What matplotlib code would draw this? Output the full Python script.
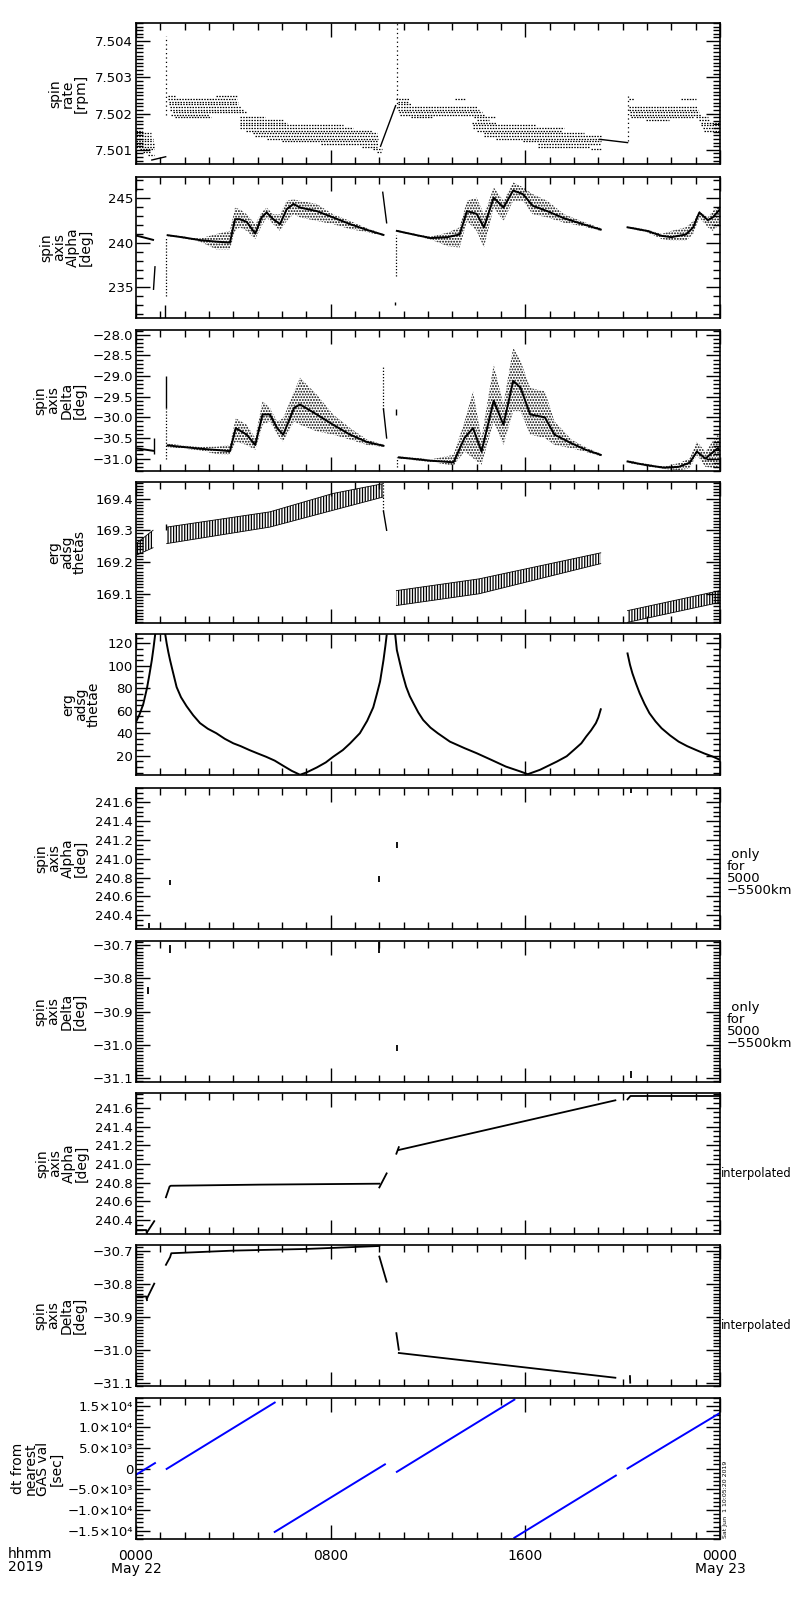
import numpy as np
import matplotlib
matplotlib.use('Agg')
import matplotlib.pyplot as plt
from matplotlib.ticker import MultipleLocator

plt.rcParams['font.family'] = ['DejaVu Sans']
plt.rcParams['hatch.linewidth'] = 0.9
plt.rcParams['hatch.color'] = 'black'

# ---------------- data (time in hours since 0000 May 22) ----------------

# panel 1 : spin rate, quantised levels drawn as dotted segments
p1_lev = [7.50153, 7.50146, 7.50138, 7.50131, 7.50124, 7.50116, 7.50109, 7.50102, 7.50094, 7.50087,
          7.50248, 7.50241, 7.50233, 7.50226, 7.50219, 7.50211, 7.50204, 7.50197, 7.50190, 7.50248,
          7.50190, 7.50182, 7.50175, 7.50168, 7.50160, 7.50153, 7.50146, 7.50138, 7.50131, 7.50124,
          7.50116, 7.50109, 7.50102, 7.50094,
          7.50241, 7.50241, 7.50233, 7.50226, 7.50219, 7.50211, 7.50204, 7.50197, 7.50190,
          7.50190, 7.50182, 7.50175, 7.50168, 7.50160, 7.50153, 7.50146, 7.50138, 7.50131, 7.50124,
          7.50116, 7.50109, 7.50102,
          7.50241, 7.50241, 7.50219, 7.50211, 7.50204, 7.50197, 7.50190, 7.50182, 7.50190, 7.50182,
          7.50175, 7.50168, 7.50160, 7.50153]
p1_t0 = [0, 0, 0, 0, 0, 0, 0, 0.15, 0.3, 0.5,
         1.3, 1.3, 1.35, 1.35, 1.4, 1.4, 1.5, 1.45, 1.6, 3.3,
         4.27, 4.27, 4.27, 4.27, 4.27, 4.5, 4.8, 4.9, 5.4, 6.0,
         7.6, 9.3, 9.75, 9.9,
         10.7, 13.1, 10.75, 10.75, 10.75, 10.75, 10.8, 10.85, 11.3,
         13.9, 14.0, 13.8, 13.85, 13.85, 14.0, 14.3, 14.3, 14.8, 15.9,
         16.5, 16.5, 18.7,
         20.25, 22.4, 20.25, 20.25, 20.3, 20.3, 20.35, 20.95, 23.0, 23.15,
         23.2, 23.2, 23.3, 23.35]
p1_t1 = [0.25, 0.6, 0.6, 0.7, 0.7, 0.75, 0.75, 0.75, 0.6, 0.75,
         1.6, 4.15, 4.2, 4.2, 4.3, 4.4, 4.5, 3.0, 3.1, 4.15,
         5.3, 6.05, 6.2, 8.5, 8.9, 9.7, 9.9, 9.95, 9.95, 9.95,
         9.95, 9.9, 10.1, 10.05,
         11.2, 13.5, 11.2, 11.3, 14.0, 14.1, 14.2, 14.3, 12.2,
         14.8, 14.5, 14.8, 16.4, 17.6, 17.5, 18.4, 19.1, 19.1, 19.1,
         19.1, 18.6, 19.1,
         20.45, 23.0, 23.05, 23.1, 23.15, 23.2, 22.9, 21.9, 23.5, 23.55,
         24.0, 24.0, 24.0, 24.0]
p1_spk_t = [1.23, 10.72, 20.2]
p1_spk_lo = [7.50195, 7.50215, 7.50125]
p1_spk_hi = [7.50414, 7.50449, 7.50249]
p1_ln_t = [[0.65, 1.22], [10.05, 10.67], [19.07, 20.2]]
p1_ln_v = [[7.50072, 7.50081], [7.50110, 7.50222], [7.50129, 7.50120]]

# panel 2 : spin axis Alpha
p2_pre_t = [0.0, 0.35, 0.7]
p2_pre_v = [240.78, 240.55, 240.3]
p2_jmp_t = [0.72, 0.78]
p2_jmp_v = [234.8, 237.3]
p2_o1_t = [1.3, 2.0, 2.63, 3.3, 3.86, 4.07, 4.27, 4.55, 4.9, 5.16, 5.37, 5.64, 5.92, 6.19, 6.47,
           6.74, 7.43, 8.1, 8.8, 9.5, 10.17]
p2_o1_c = [240.82, 240.55, 240.27, 240.1, 240.0, 242.6, 242.6, 242.3, 241.0, 242.8, 243.35, 242.6,
           242.05, 243.7, 244.3, 243.9, 243.5, 242.8, 242.05, 241.4, 240.85]
p2_o1_lo = [240.72, 240.45, 240.1, 239.25, 239.25, 241.3, 241.7, 241.3, 240.4, 241.85, 242.8, 242.05,
            241.3, 242.4, 243.15, 242.8, 242.4, 242.05, 241.5, 241.15, 240.75]
p2_o1_hi = [240.92, 240.65, 240.45, 240.95, 241.3, 243.9, 243.7, 243.15, 242.05, 243.35, 243.9, 243.15,
            243.15, 244.65, 244.8, 244.65, 244.3, 243.15, 242.4, 241.6, 240.95]
p2_spk_t = [10.14, 10.3]
p2_spk_v = [245.6, 242.2]
p2_o2_t = [10.72, 11.4, 12.1, 12.8, 13.3, 13.6, 14.0, 14.3, 14.7, 15.1, 15.5, 15.9, 16.3, 16.9,
           17.6, 18.3, 19.1]
p2_o2_c = [241.3, 240.9, 240.5, 240.6, 240.9, 243.5, 243.2, 241.7, 245.0, 243.9, 245.8, 245.4,
           244.1, 243.5, 242.7, 242.1, 241.45]
p2_o2_lo = [241.2, 240.8, 240.35, 239.6, 239.45, 242.4, 241.3, 239.45, 243.9, 242.4, 244.65, 244.65,
            243.15, 242.8, 242.2, 241.85, 241.3]
p2_o2_hi = [241.4, 241.0, 240.65, 241.1, 241.7, 244.65, 245.0, 243.15, 246.15, 244.65, 246.7, 246.15,
            245.4, 244.65, 243.15, 242.4, 241.6]
p2_o3_t = [20.2, 21.0, 21.6, 22.0, 22.6, 22.9, 23.15, 23.5, 23.7, 24.0]
p2_o3_c = [241.7, 241.3, 240.75, 240.6, 240.9, 241.7, 243.35, 242.5, 242.8, 243.7]
p2_o3_lo = [241.6, 241.15, 240.4, 240.2, 240.2, 240.95, 242.8, 241.7, 241.3, 242.05]
p2_o3_hi = [241.8, 241.45, 240.95, 241.3, 241.7, 242.4, 243.5, 242.8, 243.5, 244.1]

# panel 3 : spin axis Delta
p3_pre_t = [0.0, 0.35, 0.7]
p3_pre_v = [-30.75, -30.78, -30.81]
p3_o1_t = [1.3, 2.63, 3.3, 3.86, 4.1, 4.55, 4.9, 5.2, 5.5, 5.8, 6.05, 6.5, 6.74, 7.43, 8.1, 8.8, 9.5, 10.17]
p3_o1_c = [-30.68, -30.76, -30.79, -30.82, -30.26, -30.42, -30.67, -29.93, -29.93, -30.26, -30.42,
           -29.77, -29.69, -29.93, -30.18, -30.42, -30.6, -30.69]
p3_o1_hi = [-30.64, -30.72, -30.71, -30.67, -30.02, -30.18, -30.5, -29.61, -29.77, -30.1, -30.02,
            -29.37, -29.04, -29.45, -29.93, -30.26, -30.54, -30.66]
p3_o1_lo = [-30.72, -30.8, -30.89, -30.91, -30.59, -30.67, -30.79, -30.18, -30.1, -30.42, -30.59,
            -30.1, -30.18, -30.34, -30.42, -30.54, -30.67, -30.72]
p3_o2_t = [10.8, 12.1, 13.05, 13.5, 13.85, 14.2, 14.7, 15.1, 15.5, 15.8, 16.2, 16.8, 17.2, 17.9, 18.5, 19.1]
p3_o2_c = [-30.97, -31.05, -31.09, -30.5, -30.26, -30.83, -29.6, -30.18, -29.12, -29.28, -29.93,
           -30.0, -30.42, -30.63, -30.79, -30.91]
p3_o2_hi = [-30.94, -31.02, -30.91, -30.1, -29.37, -30.5, -28.72, -29.69, -28.31, -28.63, -29.29,
            -29.37, -30.1, -30.54, -30.73, -30.88]
p3_o2_lo = [-31.0, -31.08, -31.17, -30.83, -30.99, -31.15, -30.1, -30.67, -29.85, -29.85, -30.42,
            -30.5, -30.67, -30.75, -30.84, -30.94]
p3_o3_t = [20.2, 20.9, 21.7, 22.3, 22.75, 23.05, 23.4, 23.9, 24.0]
p3_o3_c = [-31.07, -31.15, -31.22, -31.2, -31.1, -30.83, -31.0, -30.75, -30.8]
p3_o3_hi = [-31.04, -31.12, -31.19, -31.11, -31.0, -30.59, -30.83, -30.42, -30.55]
p3_o3_lo = [-31.1, -31.18, -31.25, -31.28, -31.24, -30.91, -31.2, -31.24, -31.1]

# panel 4 : erg adsg thetas (band of vertical strokes)
p4_seg_t = [[0.0, 0.7], [1.26, 5.5, 8.1, 10.17], [10.7, 14.1, 19.1], [20.2, 24.0]]
p4_seg_lo = [[169.221, 169.245], [169.258, 169.31, 169.363, 169.405], [169.063, 169.10, 169.195], [169.01, 169.073]]
p4_seg_hi = [[169.258, 169.30], [169.31, 169.358, 169.416, 169.447], [169.11, 169.147, 169.229], [169.047, 169.11]]

# panel 5 : erg adsg thetae
p5_seg_t = [[0.0, 0.15, 0.3, 0.45, 0.55, 0.65, 0.72, 0.79],
            [1.2, 1.26, 1.33, 1.4, 1.5, 1.67, 1.85, 2.08, 2.35, 2.63, 2.95, 3.3, 3.65, 4.0, 4.3, 4.66,
             5.0, 5.35, 5.7, 6.05, 6.4, 6.74, 7.0, 7.43, 7.8, 8.1, 8.5, 8.8, 9.2, 9.5, 9.75, 9.9,
             10.03, 10.17, 10.25, 10.3],
            [10.65, 10.72, 10.85, 10.95, 11.1, 11.25, 11.4, 11.6, 11.8, 12.1, 12.4, 12.9, 13.5, 14.0,
             14.6, 15.2, 15.8, 16.1, 16.6, 17.3, 17.7, 18.0, 18.3, 18.5, 18.7, 18.9, 19.0, 19.1],
            [20.2, 20.3, 20.4, 20.55, 20.7, 20.9, 21.1, 21.35, 21.6, 21.95, 22.3, 22.65, 23.0, 23.35,
             23.7, 24.0]]
p5_seg_v = [[50, 57, 66, 80, 92, 105, 116, 128.3],
            [128.3, 120, 112, 105, 96, 81, 72, 64, 56, 49, 44, 40, 35, 31, 28.5, 25, 22, 19, 15.6,
             11, 6.5, 3, 5, 9.5, 14, 19, 25, 31, 40, 51, 63, 75, 86, 105, 118, 127],
            [128.3, 114, 102, 93, 81.4, 73, 66.7, 58.5, 51.8, 45, 40, 32.5, 26.7, 22.2, 16.3, 10.3,
             5.9, 3.5, 7.4, 14.8, 19.5, 25.2, 31, 37, 42.5, 49, 54, 61.3],
            [111, 101, 93.3, 84, 75.5, 66, 57.8, 50.5, 44.4, 38, 32.5, 28.5, 25.2, 22, 19.2, 16.3]]

# panels 6/7 : only for 5000-5500km (short marks)
p6_t = [0.53, 1.4, 10.0, 10.72, 20.35]
p6_lo = [240.26, 240.72, 240.75, 241.12, 241.70]
p6_hi = [240.32, 240.77, 240.82, 241.18, 241.76]
p7_t = [0.5, 1.4, 10.0, 10.72, 20.35]
p7_lo = [-30.846, -30.725, -30.725, -31.02, -31.10]
p7_hi = [-30.826, -30.70, -30.69, -31.0, -31.08]

# panels 8/9 : interpolated
p8_seg_t = [[0.0, 0.42, 0.45], [0.45, 0.75], [1.23, 1.38, 1.43, 5.1, 10.0], [10.0, 10.02, 10.3],
            [10.7, 10.8], [10.8, 19.7], [20.2, 20.3], [20.35, 24.0]]
p8_seg_v = [[240.295, 240.295, 240.26], [240.27, 240.39], [240.645, 240.76, 240.768, 240.78, 240.79],
            [240.75, 240.76, 240.9], [241.11, 241.18], [241.15, 241.68], [241.69, 241.72], [241.725, 241.725]]
p9_seg_t = [[0.0, 0.42, 0.45], [0.45, 0.75], [1.23, 1.4, 1.45, 4.0, 7.0, 10.0], [10.0, 10.3],
            [10.7, 10.8], [10.8, 19.7], [20.3, 20.31]]
p9_seg_v = [[-30.839, -30.839, -30.85], [-30.845, -30.80], [-30.743, -30.72, -30.708, -30.70, -30.695, -30.686],
            [-30.718, -30.794], [-30.95, -31.0], [-31.01, -31.085], [-31.08, -31.10]]

# panel 10 : dt from nearest GAS val
p10_seg_t = [[0.0, 0.78], [1.26, 5.7], [5.7, 10.23], [10.72, 15.55], [15.55, 19.72], [20.2, 24.0]]
p10_seg_v = [[-1500, 1300], [-100, 15900], [-15300, 1000], [-800, 16600], [-16700, -1700], [0, 13400]]

# ---------------- layout ----------------
W, Hfig = 800, 1600
tops = [23, 177, 330, 482, 634, 788, 941, 1093, 1245, 1398]
PH = 141
label_x = [68, 66, 60, 67, 81, 61, 60, 62, 60, 37]
labels = ['spin\nrate\n[rpm]', 'spin\naxis\nAlpha\n[deg]', 'spin\naxis\nDelta\n[deg]',
          'erg\nadsg\nthetas', 'erg\nadsg\nthetae', 'spin\naxis\nAlpha\n[deg]',
          'spin\naxis\nDelta\n[deg]', 'spin\naxis\nAlpha\n[deg]', 'spin\naxis\nDelta\n[deg]',
          'dt from\nnearest\nGAS val\n[sec]']

fig = plt.figure(figsize=(8, 16), dpi=100)
axs = []
for i, top in enumerate(tops):
    ax = fig.add_axes([136 / W, 1 - (top + PH) / Hfig, 584 / W, PH / Hfig])
    axs.append(ax)
    fig.text(label_x[i] / W, 1 - (top + PH / 2) / Hfig, labels[i], rotation=90, ha='center',
             va='center', fontsize=10, linespacing=0.9, multialignment='center')


def style(ax, ylim, yticks, ylabels, yminor):
    ax.set_xlim(0, 24)
    ax.set_ylim(*ylim)
    ax.set_xticks([0, 8, 16, 24])
    ax.xaxis.set_minor_locator(MultipleLocator(1))
    ax.set_yticks(yticks)
    ax.set_yticklabels(ylabels, fontsize=9.5)
    ax.yaxis.set_minor_locator(MultipleLocator(yminor))
    ax.tick_params(which='both', direction='in', top=True, right=True, width=1)
    ax.tick_params(which='major', length=10)
    ax.tick_params(which='minor', length=5)
    ax.tick_params(axis='x', labelbottom=False)
    ax.tick_params(axis='y', pad=2)
    for s in ax.spines.values():
        s.set_linewidth(1.2)


def cloud(ax, t, c, lo, hi):
    ax.fill_between(t, lo, hi, facecolor='none', edgecolor='k', hatch='......', linewidth=0)
    ax.plot(t, c, color='k', lw=1.4)


dot = (0, (1, 1.5))

# panel 1
ax = axs[0]
ax.hlines(p1_lev, p1_t0, p1_t1, colors='k', linestyles=[(0, (1.2, 1.0))], linewidth=0.9)
ax.vlines(p1_spk_t, p1_spk_lo, p1_spk_hi, colors='k', linestyles=[(0, (1, 2.5))], linewidth=0.9)
for t, v in zip(p1_ln_t, p1_ln_v):
    ax.plot(t, v, color='k', lw=1)
style(ax, (7.50061, 7.50450), [7.501, 7.502, 7.503, 7.504],
      ['7.501', '7.502', '7.503', '7.504'], 0.0001)

# panel 2
ax = axs[1]
ax.plot(p2_pre_t, p2_pre_v, color='k', lw=1.4)
ax.plot(p2_jmp_t, p2_jmp_v, color='k', lw=1)
ax.vlines([1.23, 10.7], [234.0, 236.3], [240.5, 240.8], colors='k', linestyles=[dot], linewidth=0.9)
ax.vlines([1.21, 10.65], [231.6, 233.0], [233.0, 233.4], colors='k', linewidth=1)
for t, c, lo, hi in [(p2_o1_t, p2_o1_c, p2_o1_lo, p2_o1_hi), (p2_o2_t, p2_o2_c, p2_o2_lo, p2_o2_hi),
                     (p2_o3_t, p2_o3_c, p2_o3_lo, p2_o3_hi)]:
    cloud(ax, t, c, lo, hi)
ax.plot(p2_spk_t, p2_spk_v, color='k', lw=1)
style(ax, (231.6, 247.3), [235, 240, 245], ['235', '240', '245'], 1)

# panel 3
ax = axs[2]
ax.plot(p3_pre_t, p3_pre_v, color='k', lw=1.4)
ax.vlines([0.76, 1.22], [-30.9, -29.77], [-30.5, -29.0], colors='k', linewidth=1)
ax.vlines([1.23, 10.17, 10.72], [-31.0, -29.8, -31.2], [-29.77, -28.76, -30.95], colors='k',
          linestyles=[dot], linewidth=0.9)
ax.plot([10.17, 10.3], [-29.8, -30.5], color='k', lw=1)
ax.vlines([10.7], [-29.95], [-29.8], colors='k', linewidth=1)
for t, c, lo, hi in [(p3_o1_t, p3_o1_c, p3_o1_lo, p3_o1_hi), (p3_o2_t, p3_o2_c, p3_o2_lo, p3_o2_hi),
                     (p3_o3_t, p3_o3_c, p3_o3_lo, p3_o3_hi)]:
    cloud(ax, t, c, lo, hi)
style(ax, (-31.30, -27.885), [-31.0, -30.5, -30.0, -29.5, -29.0, -28.5, -28.0],
      ['\u221231.0', '\u221230.5', '\u221230.0', '\u221229.5', '\u221229.0', '\u221228.5', '\u221228.0'], 0.1)

# panel 4
ax = axs[3]
for t, lo, hi in zip(p4_seg_t, p4_seg_lo, p4_seg_hi):
    ax.fill_between(t, lo, hi, facecolor='none', edgecolor='k', hatch='||||||', linewidth=0)
    ax.plot(t, lo, color='k', lw=0.6)
    ax.plot(t, hi, color='k', lw=0.6)
ax.vlines([1.23], [169.30], [169.32], colors='k', linewidth=1)
ax.vlines([10.17], [169.36], [169.447], colors='k', linestyles=[dot], linewidth=0.9)
ax.plot([10.17, 10.3], [169.36, 169.30], color='k', lw=1)
style(ax, (169.008, 169.452), [169.1, 169.2, 169.3, 169.4],
      ['169.1', '169.2', '169.3', '169.4'], 0.01)

# panel 5
ax = axs[4]
for t, v in zip(p5_seg_t, p5_seg_v):
    ax.plot(t, v, color='k', lw=1.4)
style(ax, (2.8, 128.3), [20, 40, 60, 80, 100, 120], ['20', '40', '60', '80', '100', '120'], 5)

# panel 6
ax = axs[5]
ax.vlines(p6_t, p6_lo, p6_hi, colors='k', linewidth=1.3)
style(ax, (240.253, 241.753), [240.4, 240.6, 240.8, 241.0, 241.2, 241.4, 241.6],
      ['240.4', '240.6', '240.8', '241.0', '241.2', '241.4', '241.6'], 0.05)

# panel 7
ax = axs[6]
ax.vlines(p7_t, p7_lo, p7_hi, colors='k', linewidth=1.3)
dticks = [-31.1, -31.0, -30.9, -30.8, -30.7]
dlabs = ['\u221231.1', '\u221231.0', '\u221230.9', '\u221230.8', '\u221230.7']
style(ax, (-31.112, -30.688), dticks, dlabs, 0.01)

# panel 8
ax = axs[7]
for t, v in zip(p8_seg_t, p8_seg_v):
    ax.plot(t, v, color='k', lw=1.3)
style(ax, (240.253, 241.758), [240.4, 240.6, 240.8, 241.0, 241.2, 241.4, 241.6],
      ['240.4', '240.6', '240.8', '241.0', '241.2', '241.4', '241.6'], 0.05)

# panel 9
ax = axs[8]
for t, v in zip(p9_seg_t, p9_seg_v):
    ax.plot(t, v, color='k', lw=1.3)
style(ax, (-31.11, -30.683), dticks, dlabs, 0.01)

# panel 10
ax = axs[9]
for t, v in zip(p10_seg_t, p10_seg_v):
    ax.plot(t, v, color='#0000ff', lw=1.4)
style(ax, (-17000, 17000), [-15000, -10000, -5000, 0, 5000, 10000, 15000],
      ['\u22121.5\u00d710\u2074', '\u22121.0\u00d710\u2074', '\u22125.0\u00d710\u00b3', '0',
       '5.0\u00d710\u00b3', '1.0\u00d710\u2074', '1.5\u00d710\u2074'], 1000)
ax.tick_params(axis='x', labelbottom=True, pad=7, labelsize=10)
ax.set_xticklabels(['0000\nMay 22', '0800', '1600', '0000\nMay 23'])
for lbl in ax.get_xticklabels():
    lbl.set_linespacing(0.95)

# side texts
for i in (5, 6):
    fig.text(727 / W, 1 - (tops[i] + PH / 2 + 14) / Hfig, ' only\nfor\n5000\n\u22125500km',
             ha='left', va='center', fontsize=9.5, linespacing=0.9)
for i in (7, 8):
    fig.text(721 / W, 1 - (tops[i] + PH / 2 + 10) / Hfig, 'interpolated', ha='left', va='center',
             fontsize=8.3)
fig.text(8 / W, 1 - 1547 / Hfig, 'hhmm\n2019', ha='left', va='top', fontsize=10, linespacing=0.95)
fig.text(726 / W, 1 - 1538 / Hfig, 'Sat Jun  1 10:05:20 2019', rotation=90, ha='center',
         va='bottom', fontsize=4.5)

fig.savefig('out.png', dpi=100, facecolor='white')
